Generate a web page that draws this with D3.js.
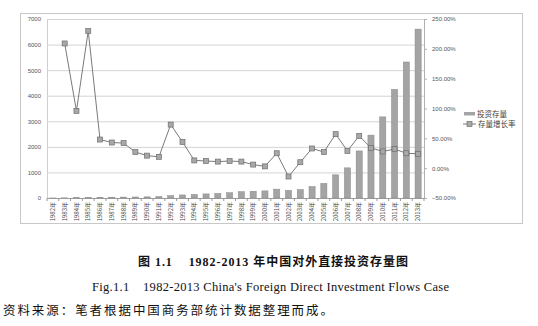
<!DOCTYPE html>
<html><head><meta charset="utf-8">
<script src="https://cdn.jsdelivr.net/npm/d3@7"></script>
<style>
body{margin:0;background:#fff;}
svg{display:block;}
</style></head>
<body>
<svg id="chart" width="538" height="326"></svg>
<script>
const years = d3.range(1982, 2014).map(String);
const stockValues = [2, 6, 12, 18, 25, 30, 36, 40, 45, 55, 90, 120, 140, 160, 180, 207, 246, 265, 278, 346, 299, 332, 448, 572, 906, 1179, 1840, 2458, 3172, 4248, 5319, 6605];
const growthRates = [null, 2.09, 0.96, 2.30, 0.48, 0.43, 0.42, 0.27, 0.21, 0.19, 0.73, 0.44, 0.13, 0.12, 0.11, 0.12, 0.11, 0.06, 0.03, 0.25, -0.14, 0.10, 0.33, 0.27, 0.57, 0.29, 0.54, 0.34, 0.28, 0.32, 0.25, 0.24];
const leftTicks = [0, 1000, 2000, 3000, 4000, 5000, 6000, 7000];
const rightTicks = [-0.5, 0, 0.5, 1.0, 1.5, 2.0, 2.5];
const legendLabels = ["投资存量", "存量增长率"];
const captionCN = "图 1.1    1982-2013 年中国对外直接投资存量图";
const captionEN = "Fig.1.1    1982-2013 China's Foreign Direct Investment Flows Case";
const sourceNote = "资料来源：笔者根据中国商务部统计数据整理而成。";

const svg = d3.select("#chart");
const L = 47, R = 424, T = 19, B = 198;

// outer chart frame
svg.append("rect").attr("x", 20.5).attr("y", 13.5).attr("width", 502).attr("height", 210)
  .attr("fill", "none").attr("stroke", "#c8c8c8").attr("stroke-width", 1);

const x = d3.scaleBand().domain(years).range([L, R]).paddingInner(0.48).paddingOuter(0.24);
const yL = d3.scaleLinear().domain([0, 7000]).range([B, T]);
const yR = d3.scaleLinear().domain([-0.5, 2.5]).range([B, T]);

// gridlines + left axis
const gl = svg.append("g").attr("transform", `translate(${L},0)`)
  .call(d3.axisLeft(yL).tickValues(leftTicks).tickSize(-(R - L)).tickPadding(6).tickFormat(d3.format("d")));
gl.select(".domain").attr("stroke", "#cfcfcf");
gl.selectAll(".tick line").attr("stroke", "#d4d4d4");
gl.selectAll(".tick text").attr("font-family", "Liberation Sans, Arial, sans-serif").attr("font-size", 6).attr("fill", "#555");

// right axis
const gr = svg.append("g").attr("transform", `translate(${R},0)`)
  .call(d3.axisRight(yR).tickValues(rightTicks).tickSize(3).tickPadding(5).tickFormat(d3.format(".2%")));
gr.select(".domain").attr("stroke", "#b0b0b0");
gr.selectAll(".tick line").attr("stroke", "#b0b0b0");
gr.selectAll(".tick text").attr("font-family", "Liberation Sans, Arial, sans-serif").attr("font-size", 6).attr("fill", "#555");

// bars
svg.append("g").selectAll("rect").data(years).join("rect")
  .attr("x", d => x(d))
  .attr("width", x.bandwidth())
  .attr("y", (d, i) => yL(stockValues[i]))
  .attr("height", (d, i) => yL(0) - yL(stockValues[i]))
  .attr("fill", "#a4a4a4").attr("stroke", "#8a8a8a").attr("stroke-width", 0.5);

// bottom axis
const step = x.step();
const gb = svg.append("g").attr("transform", `translate(0,${B})`)
  .call(d3.axisBottom(x).tickSize(0).tickFormat(d => d + "年"));
gb.select(".domain").attr("stroke", "#9a9a9a");
gb.selectAll(".tick text")
  .attr("transform", "rotate(-90)")
  .attr("text-anchor", "end")
  .attr("dx", "-4").attr("dy", "0.35em").attr("x", 0).attr("y", 0)
  .attr("font-family", "Noto Sans CJK SC, sans-serif").attr("font-size", 6).attr("fill", "#444");
// category separators ticks
svg.append("g").selectAll("line").data(years.concat(["end"])).join("line")
  .attr("x1", (d, i) => L + i * (R - L) / years.length)
  .attr("x2", (d, i) => L + i * (R - L) / years.length)
  .attr("y1", B).attr("y2", B + 3).attr("stroke", "#9a9a9a");

// line
const pts = years.map((d, i) => ({ year: d, v: growthRates[i] })).filter(p => p.v !== null);
const line = d3.line().x(p => x(p.year) + x.bandwidth() / 2).y(p => yR(p.v));
svg.append("path").datum(pts).attr("d", line).attr("fill", "none").attr("stroke", "#7a7a7a").attr("stroke-width", 1);
svg.append("g").selectAll("rect").data(pts).join("rect")
  .attr("x", p => x(p.year) + x.bandwidth() / 2 - 2.5)
  .attr("y", p => yR(p.v) - 2.5)
  .attr("width", 5).attr("height", 5)
  .attr("fill", "#a8a8a8").attr("stroke", "#6e6e6e").attr("stroke-width", 0.7);

// legend
const lg = svg.append("g");
lg.append("rect").attr("x", 464).attr("y", 112).attr("width", 11).attr("height", 3.5).attr("fill", "#a4a4a4");
lg.append("text").attr("x", 477).attr("y", 116.5).text(legendLabels[0]);
lg.append("line").attr("x1", 463).attr("x2", 476).attr("y1", 124).attr("y2", 124).attr("stroke", "#7a7a7a");
lg.append("rect").attr("x", 467).attr("y", 121.5).attr("width", 5).attr("height", 5).attr("fill", "#a8a8a8").attr("stroke", "#6e6e6e").attr("stroke-width", 0.7);
lg.append("text").attr("x", 478).attr("y", 126.5).text(legendLabels[1]);
lg.selectAll("text").attr("font-family", "Noto Sans CJK SC, sans-serif").attr("font-size", 7.5).attr("fill", "#444");

// captions
svg.append("text").attr("x", 138).attr("y", 266).attr("textLength", 270).attr("lengthAdjust", "spacing")
  .attr("font-family", "Liberation Serif, Noto Sans CJK SC, serif").attr("font-weight", "bold").attr("font-size", 12).attr("fill", "#111")
  .attr("xml:space", "preserve").style("white-space", "pre").text(captionCN);
svg.append("text").attr("x", 92).attr("y", 291).attr("textLength", 357).attr("lengthAdjust", "spacing")
  .attr("font-family", "Liberation Serif, serif").attr("font-size", 12.5).attr("fill", "#111")
  .style("white-space", "pre").text(captionEN);
svg.append("text").attr("x", 3).attr("y", 315).attr("textLength", 330).attr("lengthAdjust", "spacing")
  .attr("font-family", "Noto Sans CJK SC, sans-serif").attr("font-size", 12.5).attr("fill", "#111")
  .text(sourceNote);
</script>
</body></html>
